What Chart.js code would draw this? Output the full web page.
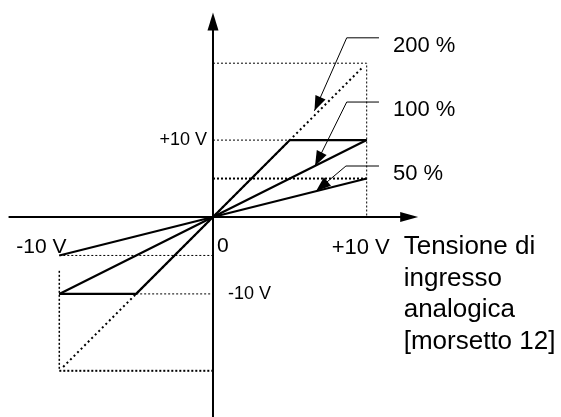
<!DOCTYPE html>
<html>
<head>
<meta charset="utf-8">
<script src="https://cdn.jsdelivr.net/npm/chart.js@4/dist/chart.umd.min.js"></script>
<style>
	body { margin: 0; background: #fff; }
	canvas { display: block; }
</style>
</head>
<body>
<canvas id="chart" width="561" height="417"></canvas>
<script>
// input voltage [V] and output for each gain
const inputV = [-10, -5, 0, 5, 10];
const out200 = [-10, -10, 0, 10, 10];   // 200 %, limited to +/-10 V
const out100 = [-10, -5, 0, 5, 10];
const out50 = [-5, -2.5, 0, 2.5, 5];
// 200 % without the limit (dotted)
const idealX = [-9.75, -5, 0, 5, 9.75];
const ideal200 = [-19.5, -10, 0, 10, 19.5];

// dashed guide lines, each a list of [x, y] points
const guides = [
	[[0, 20], [10, 20], [10, 0]],
	[[0, 10], [5, 10]],
	[[0, 5], [10, 5]],
	[[-10, -5], [0, -5]],
	[[-5, -10], [0, -10]],
	[[-10, -20], [0, -20]],
	[[-10, -7], [-10, -20]]
];
const guideWidths = [1, 1, 2, 1, 1, 2, 1.5];

// callouts: label, arrow tip, elbow, end of leader
const calloutLabels = ['200 %', '100 %', '50 %'];
const calloutTips = [[6.6, 13.8], [6.64, 6.64], [6.7, 3.35]];
const calloutElbows = [[8.7, 23.3], [8.7, 14.95], [8.65, 6.63]];
const calloutEnds = [[10.8, 23.3], [10.8, 14.95], [10.8, 6.63]];

const tickLabels = ['+10 V', '-10 V', '0', '+10 V', '-10 V'];
const axisTitle = ['Tensione di', 'ingresso', 'analogica', '[morsetto 12]'];

const pts = (xs, ys) => xs.map((x, i) => ({ x, y: ys[i] }));

const datasets = [
	{ data: pts(idealX, ideal200), borderColor: '#000', borderWidth: 2, borderDash: [2, 3] },
	{ data: pts(inputV, out200), borderColor: '#000', borderWidth: 2.2 },
	{ data: pts(inputV, out100), borderColor: '#000', borderWidth: 2.2 },
	{ data: pts(inputV, out50), borderColor: '#000', borderWidth: 2.2 }
];
guides.forEach((g, i) => {
	datasets.push({
		data: g.map(p => ({ x: p[0], y: p[1] })),
		borderColor: '#000', borderWidth: guideWidths[i], borderDash: [2, 2]
	});
});

function arrowHead(ctx, x0, y0, x1, y1, len, half) {
	const a = Math.atan2(y1 - y0, x1 - x0);
	ctx.beginPath();
	ctx.moveTo(x1, y1);
	ctx.lineTo(x1 - len * Math.cos(a) + half * Math.sin(a), y1 - len * Math.sin(a) - half * Math.cos(a));
	ctx.lineTo(x1 - len * Math.cos(a) - half * Math.sin(a), y1 - len * Math.sin(a) + half * Math.cos(a));
	ctx.closePath();
	ctx.fill();
}

const decor = {
	id: 'decor',
	beforeDatasetsDraw(chart) {
		const { ctx, scales: { x, y } } = chart;
		const ox = x.getPixelForValue(0), oy = y.getPixelForValue(0);
		ctx.save();
		ctx.strokeStyle = '#000';
		ctx.fillStyle = '#000';
		ctx.lineWidth = 2;
		// x axis
		const xl = x.getPixelForValue(-13.3), xr = x.getPixelForValue(13.35);
		ctx.beginPath(); ctx.moveTo(xl, oy); ctx.lineTo(xr - 10, oy); ctx.stroke();
		arrowHead(ctx, xl, oy, xr, oy, 18, 5);
		// y axis
		const yt = y.getPixelForValue(26.6), yb = y.getPixelForValue(-26);
		ctx.beginPath(); ctx.moveTo(ox, yb); ctx.lineTo(ox, yt + 10); ctx.stroke();
		arrowHead(ctx, ox, yb, ox, yt, 18, 5.5);
		ctx.restore();
	},
	afterDatasetsDraw(chart) {
		const { ctx, scales: { x, y } } = chart;
		const px = v => x.getPixelForValue(v), py = v => y.getPixelForValue(v);
		const font = s => s + 'px "Liberation Sans", Arial, sans-serif';
		ctx.save();
		ctx.strokeStyle = '#000';
		ctx.fillStyle = '#000';
		// callouts
		ctx.lineWidth = 1;
		calloutLabels.forEach((lab, i) => {
			const t = calloutTips[i], e = calloutElbows[i], n = calloutEnds[i];
			ctx.beginPath();
			ctx.moveTo(px(n[0]), py(n[1]));
			ctx.lineTo(px(e[0]), py(e[1]));
			ctx.lineTo(px(t[0]), py(t[1]));
			ctx.stroke();
			arrowHead(ctx, px(e[0]), py(e[1]), px(t[0]), py(t[1]), 15, 5.5);
			ctx.font = font(22);
			ctx.textAlign = 'left';
			ctx.textBaseline = 'middle';
			ctx.fillText(lab, px(n[0]) + 14, py(n[1]) + 8);
		});
		// tick labels
		ctx.textBaseline = 'middle';
		ctx.textAlign = 'right';
		ctx.font = font(18);
		ctx.fillText(tickLabels[0], px(0) - 6, py(10));
		ctx.textAlign = 'left';
		ctx.font = font(21);
		ctx.fillText(tickLabels[1], px(-10) - 43, py(0) + 30);
		ctx.fillText(tickLabels[2], px(0) + 4, py(0) + 29);
		ctx.font = font(22);
		ctx.fillText(tickLabels[3], px(10) - 35, py(0) + 31);
		ctx.font = font(18);
		ctx.fillText(tickLabels[4], px(0) + 15, py(-10));
		// axis title
		ctx.font = font(26);
		ctx.textBaseline = 'alphabetic';
		axisTitle.forEach((line, i) => ctx.fillText(line, px(10) + 37, py(0) + 37 + i * 31.7));
		ctx.restore();
	}
};

new Chart(document.getElementById('chart'), {
	type: 'scatter',
	data: { datasets },
	options: {
		responsive: false,
		animation: false,
		devicePixelRatio: 1,
		showLine: true,
		layout: { padding: 0 },
		elements: { point: { radius: 0, hoverRadius: 0 }, line: { tension: 0, fill: false } },
		plugins: { legend: { display: false }, tooltip: { enabled: false } },
		scales: {
			x: { type: 'linear', min: -13.858, max: 22.642, display: false },
			y: { type: 'linear', min: -26.008, max: 28.218, display: false }
		}
	},
	plugins: [decor]
});
</script>
</body>
</html>
